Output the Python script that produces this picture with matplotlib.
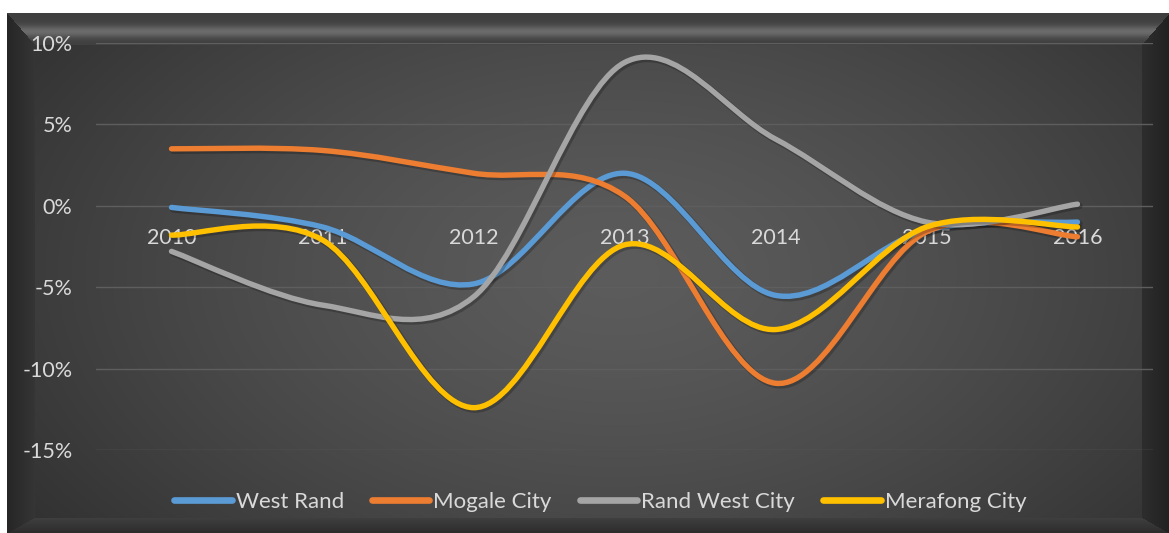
import matplotlib
matplotlib.use("Agg")
import numpy as np
import matplotlib.pyplot as plt
from matplotlib.path import Path
from matplotlib.patches import PathPatch
from matplotlib.lines import Line2D
import matplotlib.patheffects as pe

plt.rcParams["font.family"] = ["Lato", "DejaVu Sans"]

# ── data (percent) ────────────────────────────────────────────────
years = ["2010", "2011", "2012", "2013", "2014", "2015", "2016"]
west_rand = [-0.1, -1.3, -4.8, 2.0, -5.5, -1.5, -1.0]
mogale_city = [3.5, 3.4, 2.0, 0.6, -10.9, -1.6, -1.9]
rand_west_city = [-2.8, -6.1, -5.6, 8.8, 4.1, -1.0, 0.1]
merafong_city = [-1.8, -2.1, -12.4, -2.4, -7.6, -1.3, -1.3]

series = [("West Rand", west_rand, "#5B9BD5"),
          ("Mogale City", mogale_city, "#ED7D31"),
          ("Rand West City", rand_west_city, "#A5A5A5"),
          ("Merafong City", merafong_city, "#FFC000")]

W, H = 1169, 533
fig = plt.figure(figsize=(W / 100, H / 100), dpi=100)
fig.patch.set_facecolor("white")

# ── dark bevelled panel background ────────────────────────────────
px0, py0 = 7, 13           # panel top-left in pixels
pw, ph = W - px0, H - py0
bg = fig.add_axes([px0 / W, 0, pw / W, ph / H])
bg.axis("off")
yy, xx = np.mgrid[0:ph, 0:pw].astype(float)
r = np.sqrt(((xx - 610) / 700) ** 2 + ((yy - 260) / 420) ** 2)
shade = 0.36 - 0.16 * np.clip(r, 0, 1.2) ** 1.4

top_w, side_w, bot_w = 32, 28, 16
top_band = 0.25 + 0.17 * np.exp(-((yy - 18) / 6) ** 2)
mask_top = (yy < top_w) & (yy <= xx * top_w / side_w) & (yy <= (pw - xx) * top_w / side_w)
shade = np.where(mask_top, top_band, shade)
mask_left = (xx < side_w) & ~mask_top & (xx <= (ph - yy) * side_w / bot_w)
shade = np.where(mask_left, 0.15 + 0.06 * (xx / side_w), shade)
mask_right = (xx > pw - side_w) & ~mask_top & ((pw - xx) <= (ph - yy) * side_w / bot_w)
shade = np.where(mask_right, 0.13 + 0.05 * ((pw - xx) / side_w), shade)
mask_bot = (yy > ph - bot_w) & ~mask_left & ~mask_right
shade = np.where(mask_bot, 0.17 + 0.08 * ((ph - yy) / bot_w), shade)
img = np.dstack([shade] * 3)
bg.imshow(img, aspect="auto", extent=(0, 1, 0, 1), interpolation="bilinear")
bg.set_xlim(0, 1)
bg.set_ylim(0, 1)

# ── plot area ─────────────────────────────────────────────────────
L, R_, T_, B = 96, 1153, 43, 450
ax = fig.add_axes([L / W, 1 - B / H, (R_ - L) / W, (B - T_) / H])
ax.patch.set_alpha(0)
for s in ax.spines.values():
    s.set_visible(False)
ax.set_xlim(-0.5, len(years) - 0.5)
ax.set_ylim(-15, 10)
yt = [10, 5, 0, -5, -10, -15]
ax.set_yticks(yt)
ax.set_yticklabels([f"{v}%" for v in yt], color="#d9d9d9", fontsize=15.5)
ax.tick_params(axis="y", length=0, pad=17)
ax.set_xticks([])
for v in yt:
    ax.axhline(v, color="#5e5e5e", lw=1.0, zorder=1)

x = np.arange(len(years))
for i, yr in enumerate(years):
    ax.annotate(yr, (x[i], 0), xytext=(0, -23), textcoords="offset points",
                ha="center", va="center", color="#d9d9d9", fontsize=15.5, zorder=2)


def smooth_path(xs, ys):
    pts = np.column_stack([xs, ys]).astype(float)
    n = len(pts)
    verts = [pts[0]]
    codes = [Path.MOVETO]
    for i in range(n - 1):
        p_prev = pts[i - 1] if i > 0 else pts[i]
        p_next2 = pts[i + 2] if i + 2 < n else pts[i + 1]
        c1 = pts[i] + (pts[i + 1] - p_prev) / 6
        c2 = pts[i + 1] - (p_next2 - pts[i]) / 6
        verts += [c1, c2, pts[i + 1]]
        codes += [Path.CURVE4] * 3
    return Path(verts, codes)


for name, vals, col in series:
    patch = PathPatch(smooth_path(x, vals), fill=False, edgecolor=col,
                      lw=3.9, capstyle="round", joinstyle="round", zorder=3)
    patch.set_path_effects([
        pe.Stroke(offset=(1.2, -1.2), linewidth=5, foreground="black", alpha=0.22),
        pe.Normal()])
    ax.add_patch(patch)

handles = [Line2D([0], [0], color=c, lw=4.8, solid_capstyle="round")
           for _, _, c in series]
leg = fig.legend(handles, [n for n, _, _ in series], loc="center",
                 bbox_to_anchor=(600 / W, 1 - 502 / H), ncol=4, frameon=False,
                 fontsize=16, handlelength=2.6, handletextpad=0.18,
                 columnspacing=1.25)
for t in leg.get_texts():
    t.set_color("#d9d9d9")

fig.savefig("out.png", dpi=100, facecolor="white")
